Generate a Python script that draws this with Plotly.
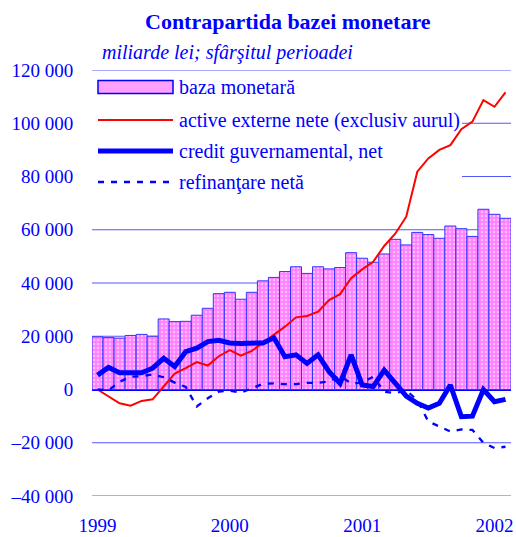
import pandas as pd
import plotly.graph_objects as go

# ---- data (monthly, end of period, billion lei) ----
months = [d.strftime("%Y-%m") for d in pd.date_range("1999-01-01", "2002-02-01", freq="MS")]

baza_monetara = [19800, 19500, 19300, 20300, 20700, 20000, 26500, 25500, 25600, 27900,
                 30500, 36000, 36500, 33900, 36500, 40800, 42100, 44300, 46100, 43600,
                 46100, 45300, 45800, 51400, 49300, 47800, 50900, 56400, 54300, 59000,
                 58200, 56800, 61400, 60400, 57500, 67700, 65800, 64300]

active_externe = [0, -2700, -5200, -6100, -4300, -3700, 1000, 6000, 8000, 10300,
                  9000, 12500, 14800, 12700, 14500, 17500, 20700, 23600, 27100, 27600,
                  29200, 33600, 35800, 41800, 45100, 48000, 53900, 58500, 64900, 81800,
                  86800, 90000, 91800, 97800, 100600, 108700, 106200, 111600]

credit_guvernamental = [5400, 8300, 6300, 6100, 6300, 8000, 11700, 8600, 14200, 15500,
                        18000, 18500, 17500, 17300, 17300, 17500, 19400, 12300, 13000, 9800,
                        13000, 6700, 2300, 13000, 1700, 1100, 7300, 2500, -2500, -5200,
                        -7000, -5200, 1700, -10200, -10000, 0, -4600, -3700]

refinantare = [0, -300, 2900, 4800, 5000, 5700, 4600, 2600, 1000, -6400,
               -3300, -800, -450, -1200, 450, 2100, 2300, 2000, 2000, 2500,
               2500, 3000, 5000, 2300, 2500, 4800, -800, -1400, -300, -4000,
               -12000, -14000, -15800, -15000, -15200, -20000, -22000, -21500]

x_tickvals = ["1999-01", "2000-01", "2001-01", "2002-01"]
x_ticktext = ["1999", "2000", "2001", "2002"]
y_tickvals = [-40000, -20000, 0, 20000, 40000, 60000, 80000, 100000, 120000]
y_ticktext = ["\u201340 000", "\u201320 000", "0", "20 000", "40 000", "60 000",
              "80 000", "100 000", "120 000"]
# grid values hidden behind the legend box
legend_covered_grid = [80000, 100000]

legend_labels = ["baza monetară", "active externe nete (exclusiv aurul)",
                 "credit guvernamental, net", "refinanţare netă"]

# ---- styling ----
BLUE = "#0000ff"
GRID = "#5555ff"
PINK = "#ff80ff"
FONT = "Liberation Serif"

W, H = 516, 537
ML, MR, MT, MB = 92, 5, 70, 41
PW, PH = W - ML - MR, H - MT - MB

def dx(px):
    return (px - ML) / PW

def dy(py):
    return (H - MB - py) / PH

fig = go.Figure()

fig.add_trace(go.Bar(
    x=months, y=baza_monetara, name=legend_labels[0],
    marker=dict(color=PINK, line=dict(color="#3333ff", width=1),
                pattern=dict(shape=".", bgcolor=PINK, fgcolor="white",
                             size=4, solidity=0.3)),
    showlegend=False,
))
fig.add_trace(go.Scatter(
    x=months, y=active_externe, mode="lines", name=legend_labels[1],
    line=dict(color="#ff0000", width=2), showlegend=False,
))
fig.add_trace(go.Scatter(
    x=months, y=credit_guvernamental, mode="lines", name=legend_labels[2],
    line=dict(color=BLUE, width=5), showlegend=False,
))
fig.add_trace(go.Scatter(
    x=months, y=refinantare, mode="lines", name=legend_labels[3],
    line=dict(color=BLUE, width=2.3, dash="6px,7px"), showlegend=False,
))

shapes = []
# horizontal gridlines (below the bars); two of them stop at the legend box
for v in y_tickvals:
    if v == 0:
        continue
    shapes.append(dict(type="line", xref="x domain", yref="y", layer="below",
                       x0=dx(462) if v in legend_covered_grid else 0, x1=1, y0=v, y1=v,
                       line=dict(color=GRID, width=1)))

# ---- legend (key swatches + text) ----
rows = [87, 120, 151, 182]
sx0, sx1 = dx(98), dx(173)
shapes.append(dict(type="rect", xref="x domain", yref="y domain", layer="above",
                   x0=sx0, x1=sx1, y0=dy(rows[0] + 6.5), y1=dy(rows[0] - 6.5),
                   fillcolor="#ffa0ff", line=dict(color=BLUE, width=1.5)))
shapes.append(dict(type="line", xref="x domain", yref="y domain", layer="above",
                   x0=sx0, x1=sx1, y0=dy(rows[1]), y1=dy(rows[1]),
                   line=dict(color="#ff0000", width=2)))
shapes.append(dict(type="line", xref="x domain", yref="y domain", layer="above",
                   x0=sx0, x1=sx1, y0=dy(rows[2]), y1=dy(rows[2]),
                   line=dict(color=BLUE, width=5)))
shapes.append(dict(type="line", xref="x domain", yref="y domain", layer="above",
                   x0=sx0, x1=sx1, y0=dy(rows[3]), y1=dy(rows[3]),
                   line=dict(color=BLUE, width=2.3, dash="6px,7px")))

annotations = []
for lab, r in zip(legend_labels, rows):
    annotations.append(dict(text=lab, xref="paper", yref="paper",
                            x=dx(177), y=dy(r), xanchor="left", yanchor="middle",
                            showarrow=False, font=dict(family=FONT, size=20, color=BLUE)))

annotations.append(dict(text="<b>Contrapartida bazei monetare</b>", xref="paper", yref="paper",
                        x=dx(288), y=dy(22), xanchor="center", yanchor="middle",
                        showarrow=False, font=dict(family=FONT, size=22, color=BLUE)))
annotations.append(dict(text="<i>miliarde lei; sfârşitul perioadei</i>", xref="paper", yref="paper",
                        x=dx(100), y=dy(53), xanchor="left", yanchor="middle",
                        showarrow=False, font=dict(family=FONT, size=20, color=BLUE)))

fig.update_layout(
    width=W, height=H,
    margin=dict(l=ML, r=MR, t=MT, b=MB, autoexpand=False),
    paper_bgcolor="white", plot_bgcolor="white",
    bargap=0,
    showlegend=False,
    shapes=shapes,
    annotations=annotations,
    font=dict(family=FONT, size=19, color=BLUE),
)
fig.update_xaxes(
    type="category", categoryorder="array", categoryarray=months,
    range=[-0.5, len(months) - 0.5],
    tickmode="array", tickvals=x_tickvals, ticktext=x_ticktext,
    showgrid=False, zeroline=False, showline=False,
    ticks="outside", ticklen=12, tickcolor="rgba(0,0,0,0)",
    tickfont=dict(family=FONT, size=19, color=BLUE),
)
fig.update_yaxes(
    range=[-40000, 120000],
    tickmode="array", tickvals=y_tickvals, ticktext=y_ticktext,
    showgrid=False,
    zeroline=True, zerolinecolor=BLUE, zerolinewidth=2.5,
    showline=False,
    ticks="outside", ticklen=14, tickcolor="rgba(0,0,0,0)",
    tickfont=dict(family=FONT, size=19, color=BLUE),
)

fig.write_html("out.html",
               config={"displayModeBar": False, "staticPlot": True},
               post_script="document.body.style.margin='0';document.body.style.overflow='hidden';")
